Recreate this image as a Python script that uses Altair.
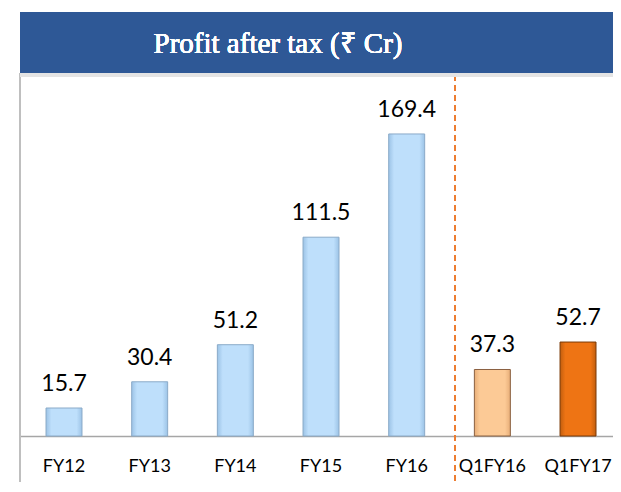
import altair as alt
import pandas as pd

categories = ["FY12", "FY13", "FY14", "FY15", "FY16", "Q1FY16", "Q1FY17"]
values = [15.7, 30.4, 51.2, 111.5, 169.4, 37.3, 52.7]
groups = ["annual", "annual", "annual", "annual", "annual", "q_prev", "q_curr"]
title_text = "Profit after tax (₹ Cr)"

df = pd.DataFrame({"cat": categories, "val": values, "grp": groups,
                   "label": [f"{v:.1f}" for v in values]})

W, H = 593, 424

x = alt.X("cat:N", sort=categories,
          scale=alt.Scale(paddingInner=0.58, paddingOuter=0.251, align=0.605),
          axis=alt.Axis(title=None, labelAngle=0, ticks=False, domainColor="#A6A6A6",
                        domainWidth=1.5, labelFont="Lato", labelFontSize=18,
                        labelColor="#000000", labelPadding=21))
y = alt.Y("val:Q", scale=alt.Scale(domain=[0, 237.8], nice=False, zero=True), axis=None)

base = alt.Chart(df)

def grad(edge, mid):
    return alt.Gradient(gradient="linear", x1=0, x2=1, y1=0, y2=0,
                        stops=[alt.GradientStop(color=edge, offset=0),
                               alt.GradientStop(color=mid, offset=0.15),
                               alt.GradientStop(color=mid, offset=0.85),
                               alt.GradientStop(color=edge, offset=1)])

bar_styles = {
    "annual": (grad("#9CC3E6", "#BEDFFB"), "#8AAAC8"),
    "q_prev": (grad("#E8AE78", "#FCCA96"), "#8A6040"),
    "q_curr": (grad("#C25E0E", "#EE7414"), "#7A3A08"),
}

bars = [
    base.transform_filter(alt.datum.grp == g).mark_bar(fill=f, stroke=s, strokeWidth=1)
    .encode(x=x, y=y)
    for g, (f, s) in bar_styles.items()
]

labels = base.mark_text(baseline="alphabetic", dy=-17, font="Lato", fontSize=23,
                        color="#000000").encode(x=x, y=y, text="label:N")

banner = base.mark_rect(color="#2E5896").encode(
    x=alt.value(0), x2=alt.value(W), y=alt.value(0), y2=alt.value(61))
shadow = base.mark_rect(color="#E4E4E4").encode(
    x=alt.value(0), x2=alt.value(W), y=alt.value(61), y2=alt.value(65))
title = base.mark_text(font="Liberation Serif", fontSize=29,
                       color="#FFFFFF", baseline="alphabetic").encode(
    x=alt.value(258), y=alt.value(41), text=alt.value(title_text))
left_line = base.mark_rule(color="#BFBFBF", strokeWidth=2).encode(
    x=alt.value(0), y=alt.value(61), y2=alt.value(490))
sep = base.mark_rule(color="#ED7D31", strokeWidth=2, strokeDash=[6, 4]).encode(
    x=alt.value(435), y=alt.value(63), y2=alt.value(490))

chart = alt.layer(left_line, sep, *bars, labels, shadow, banner, title).properties(
    width=W, height=H,
    autosize=alt.AutoSizeParams(type="none"),
    padding={"left": 12, "top": 4, "right": 0, "bottom": 46},
).configure_view(stroke=None)

chart.save("out.html", embed_options={"renderer": "svg", "actions": False})
